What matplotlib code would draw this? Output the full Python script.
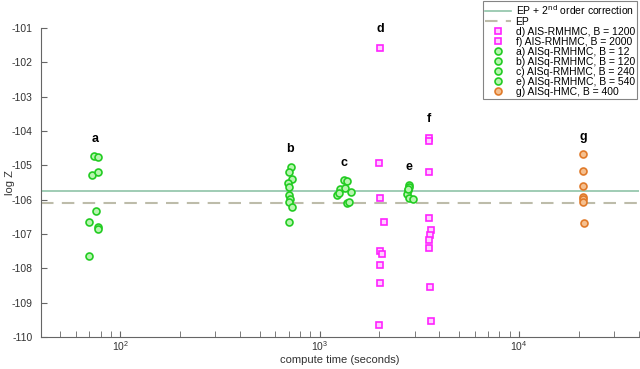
import matplotlib.pyplot as plt

plt.rcParams['font.family'] = ['Liberation Sans', 'DejaVu Sans']
plt.rcParams['axes.unicode_minus'] = False

# valores de referencia
ep2 = -105.76
ep = -106.09

# tiempos y log Z de cada grupo
a_t = [74.0, 77.5, 72.3, 77.5, 75.7, 69.6, 77.5, 77.5, 69.6]
a_z = [-104.72, -104.75, -105.27, -105.20, -106.32, -106.64, -106.80, -106.85, -107.64]

b_t = [716, 700, 729, 696, 702, 702, 710, 700, 729, 702]
b_z = [-105.04, -105.19, -105.39, -105.52, -105.62, -105.86, -105.97, -106.06, -106.21, -106.66]

c_t = [1325, 1367, 1265, 1341, 1437, 1227, 1256, 1367, 1404]
c_z = [-105.43, -105.47, -105.70, -105.66, -105.79, -105.87, -105.82, -106.10, -106.07]

d_t = [2009, 1993, 2009, 2112, 2009, 2056, 2009, 2009, 1993]
d_z = [-101.57, -104.94, -105.96, -106.65, -107.49, -107.57, -107.91, -108.43, -109.65]

e_t = [2818, 2799, 2775, 2752, 2818, 2931, 2775]
e_z = [-105.56, -105.64, -105.73, -105.84, -105.94, -105.97, -105.68]

f_t = [3550, 3524, 3550, 3524, 3631, 3565, 3524, 3550, 3590, 3648]
f_z = [-104.20, -104.28, -105.20, -106.54, -106.89, -107.03, -107.18, -107.42, -108.54, -109.53]

g_t = [21000, 21000, 21000, 21100, 21100, 21100, 21200]
g_z = [-104.68, -105.17, -105.61, -105.91, -105.99, -106.08, -106.67]

# etiquetas de cada grupo (letra, x, y)
letras = ['a', 'b', 'c', 'd', 'e', 'f', 'g']
letras_x = [74.9, 710, 1330, 2009, 2818, 3550, 21000]
letras_y = [-104.22, -104.53, -104.92, -101.04, -105.06, -103.66, -104.18]

fig = plt.figure(figsize=(6.4, 3.69), dpi=100)
ax = fig.add_axes([0.064, 0.087, 0.934, 0.837])

ax.axhline(ep2, color='#8fc4a8', lw=1.2, label='EP + 2$^{\\rm nd}$ order correction')
ax.axhline(ep, color='#bdbcaa', lw=1.5, dashes=(6, 4), label='EP')

rosa = dict(ls='none', marker='s', ms=4, mew=1.2, mec='#ff22ff', mfc='#ffd0ff')
verde = dict(ls='none', marker='o', ms=5, mew=1.2, mec='#22cc22', mfc='#b8f5b0')
naranja = dict(ls='none', marker='o', ms=5, mew=1.2, mec='#e07a2a', mfc='#f5c090')

ax.plot(d_t, d_z, label='d) AIS-RMHMC, B = 1200', **rosa)
ax.plot(f_t, f_z, label='f) AIS-RMHMC, B = 2000', **rosa)
ax.plot(a_t, a_z, label='a) AISq-RMHMC, B = 12', **verde)
ax.plot(b_t, b_z, label='b) AISq-RMHMC, B = 120', **verde)
ax.plot(c_t, c_z, label='c) AISq-RMHMC, B = 240', **verde)
ax.plot(e_t, e_z, label='e) AISq-RMHMC, B = 540', **verde)
ax.plot(g_t, g_z, label='g) AISq-HMC, B = 400', **naranja)

for l, x, y in zip(letras, letras_x, letras_y):
    ax.text(x, y, l, ha='center', va='center', fontsize=9, fontweight='bold')

ax.set_xscale('log')
ax.set_xlim(40, 40000)
ax.set_ylim(-110, -101)
ax.set_yticks(range(-110, -100))
ax.set_xlabel('compute time (seconds)', fontsize=8, color='#333333')
ax.set_ylabel('log Z', fontsize=8, color='#333333')
ax.yaxis.set_label_coords(-0.043, 0.5)
ax.xaxis.set_label_coords(0.5, -0.058)

for s in ['top', 'right']:
    ax.spines[s].set_visible(False)
for s in ['left', 'bottom']:
    ax.spines[s].set_color('#666666')
ax.tick_params(which='both', direction='in', length=4, color='#666666',
               labelsize=7.5, labelcolor='#333333')
ax.tick_params(axis='x', pad=1.5)
ax.tick_params(axis='y', pad=6)

leg = ax.legend(loc='upper right', bbox_to_anchor=(0.997, 1.087), fontsize=7.5,
                frameon=True, fancybox=False, edgecolor='#666666',
                borderpad=0.2, labelspacing=0.0, handlelength=2.5,
                handletextpad=0.4, borderaxespad=0)
leg.get_frame().set_linewidth(0.8)

fig.savefig('out.png', dpi=100)
